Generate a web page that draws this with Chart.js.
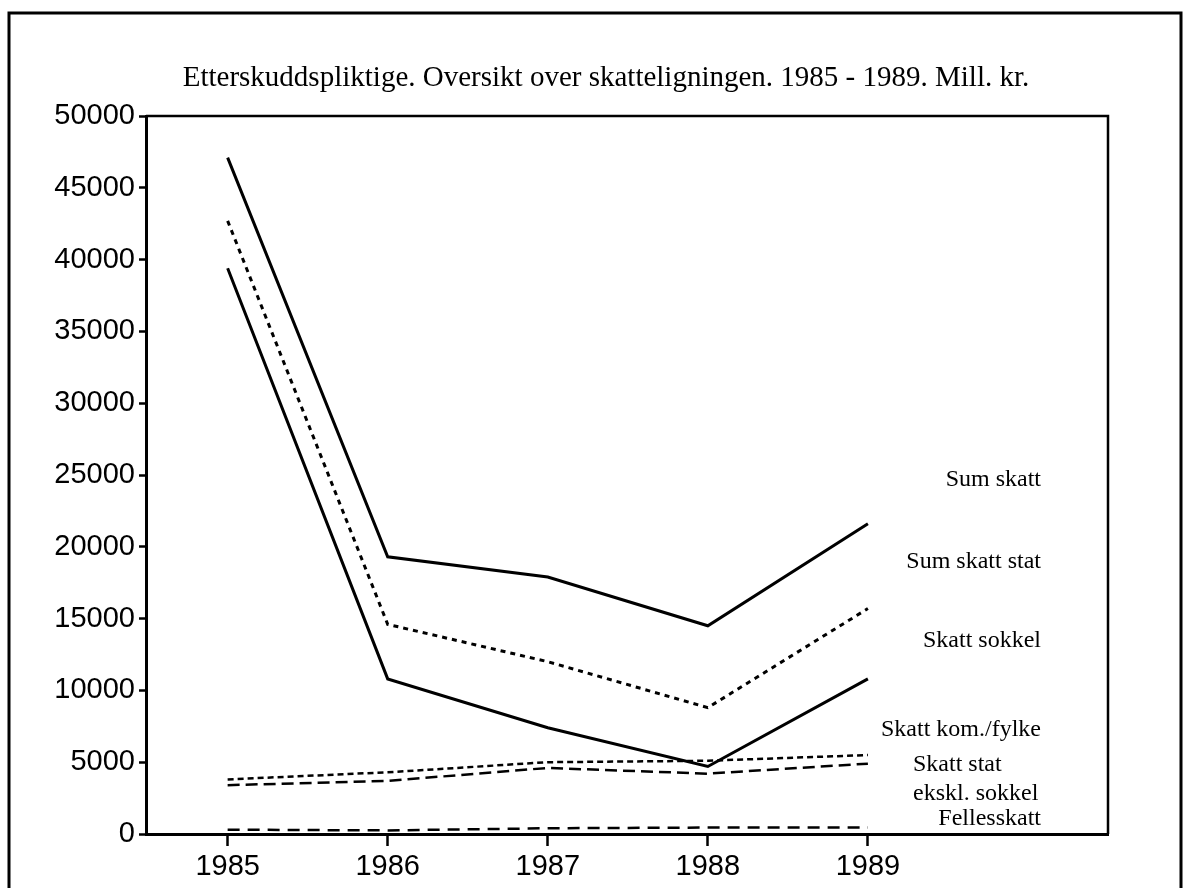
<!DOCTYPE html>
<html>
<head>
<meta charset="utf-8">
<script src="https://cdn.jsdelivr.net/npm/chart.js@4/dist/chart.umd.min.js"></script>
<style>
  html, body { margin: 0; padding: 0; background: #ffffff; }
  #wrap { position: relative; width: 1185px; height: 888px; }
</style>
</head>
<body>
<div id="wrap"><canvas id="chart" width="1185" height="888"></canvas></div>
<script>
// Etterskuddspliktige - skatteligningen 1985-1989, mill. kr.
var years = [1985, 1986, 1987, 1988, 1989];

var sumSkatt       = [47100, 19300, 17900, 14500, 21600];
var sumSkattStat   = [42700, 14600, 12000, 8800, 15700];
var skattSokkel    = [39400, 10800, 7400, 4700, 10800];
var skattKomFylke  = [3800, 4300, 5000, 5100, 5500];
var skattStatEkskl = [3400, 3700, 4600, 4200, 4900];
var fellesskatt    = [300, 250, 400, 450, 450];

var yTicks = [0, 5000, 10000, 15000, 20000, 25000, 30000, 35000, 40000, 45000, 50000];

var title = 'Etterskuddspliktige. Oversikt over skatteligningen. 1985 - 1989. Mill. kr.';

// labels at the right end of the lines
var seriesLabels = [
  { text: 'Sum skatt', align: 'right', y: 480 },
  { text: 'Sum skatt stat', align: 'right', y: 562 },
  { text: 'Skatt sokkel', align: 'right', y: 641 },
  { text: 'Skatt kom./fylke', align: 'right', y: 730 },
  { text: 'Skatt stat', align: 'left', y: 765 },
  { text: 'ekskl. sokkel', align: 'left', y: 794 },
  { text: 'Fellesskatt', align: 'right', y: 819 }
];

function toPoints(values) {
  var pts = [];
  for (var i = 0; i < years.length; i++) pts.push({ x: years[i], y: values[i] });
  return pts;
}

function line(label, values, width, dash) {
  return {
    label: label,
    data: toPoints(values),
    borderColor: '#000000',
    borderWidth: width,
    borderDash: dash,
    borderCapStyle: 'butt',
    pointRadius: 0,
    tension: 0,
    fill: false
  };
}

// frame, plot box, title and right-hand labels
var decorPlugin = {
  id: 'decor',
  afterDraw: function(chart) {
    var ctx = chart.ctx;
    var a = chart.chartArea;
    ctx.save();
    ctx.strokeStyle = '#000';
    ctx.lineWidth = 3;
    ctx.beginPath();
    ctx.moveTo(9, 888);
    ctx.lineTo(9, 13);
    ctx.lineTo(1181, 13);
    ctx.lineTo(1181, 888);
    ctx.stroke();

    ctx.lineWidth = 2.5;
    ctx.beginPath();
    ctx.moveTo(a.left, a.top);
    ctx.lineTo(a.right, a.top);
    ctx.lineTo(a.right, a.bottom);
    ctx.stroke();

    ctx.fillStyle = '#000';
    ctx.font = '29px "Liberation Serif", "DejaVu Serif", serif';
    ctx.textAlign = 'center';
    ctx.textBaseline = 'alphabetic';
    ctx.fillText(title, 606, 86);

    ctx.font = '24px "Liberation Serif", "DejaVu Serif", serif';
    ctx.textBaseline = 'middle';
    for (var i = 0; i < seriesLabels.length; i++) {
      var l = seriesLabels[i];
      ctx.textAlign = l.align;
      ctx.fillText(l.text, l.align === 'right' ? 1041 : 913, l.y);
    }
    ctx.restore();
  }
};

var tickFont = { family: '"Liberation Sans", Arial, sans-serif', size: 29 };

new Chart(document.getElementById('chart').getContext('2d'), {
  type: 'line',
  data: {
    datasets: [
      line('Sum skatt', sumSkatt, 3, []),
      line('Sum skatt stat', sumSkattStat, 3, [5, 5]),
      line('Skatt sokkel', skattSokkel, 3, []),
      line('Skatt kom./fylke', skattKomFylke, 2.5, [6, 4]),
      line('Skatt stat ekskl. sokkel', skattStatEkskl, 2.5, [12, 6]),
      line('Fellesskatt', fellesskatt, 2.5, [12, 8])
    ]
  },
  options: {
    responsive: false,
    animation: false,
    layout: { padding: { top: 116, right: 77, left: 0, bottom: 0 } },
    plugins: {
      legend: { display: false },
      tooltip: { enabled: false },
      title: { display: false }
    },
    scales: {
      x: {
        type: 'linear',
        min: 1984.49,
        max: 1990.5,
        afterBuildTicks: function(scale) {
          scale.ticks = years.map(function(y) { return { value: y }; });
        },
        afterFit: function(scale) { scale.height = 54; },
        grid: { display: true, drawOnChartArea: false, drawTicks: true, tickLength: 12, tickColor: '#000', tickWidth: 2.5 },
        border: { display: true, color: '#000', width: 3 },
        ticks: {
          color: '#000',
          font: tickFont,
          padding: 4,
          maxRotation: 0,
          autoSkip: false,
          callback: function(v) { return String(v); }
        }
      },
      y: {
        type: 'linear',
        min: 0,
        max: 50000,
        afterBuildTicks: function(scale) {
          scale.ticks = yTicks.map(function(v) { return { value: v }; });
        },
        afterFit: function(scale) { scale.width = 146; },
        grid: { display: true, drawOnChartArea: false, drawTicks: true, tickLength: 7, tickColor: '#000', tickWidth: 2.5 },
        border: { display: true, color: '#000', width: 3 },
        ticks: {
          color: '#000',
          font: tickFont,
          padding: 4,
          callback: function(v) { return String(v); }
        }
      }
    }
  },
  plugins: [decorPlugin]
});
</script>
</body>
</html>
